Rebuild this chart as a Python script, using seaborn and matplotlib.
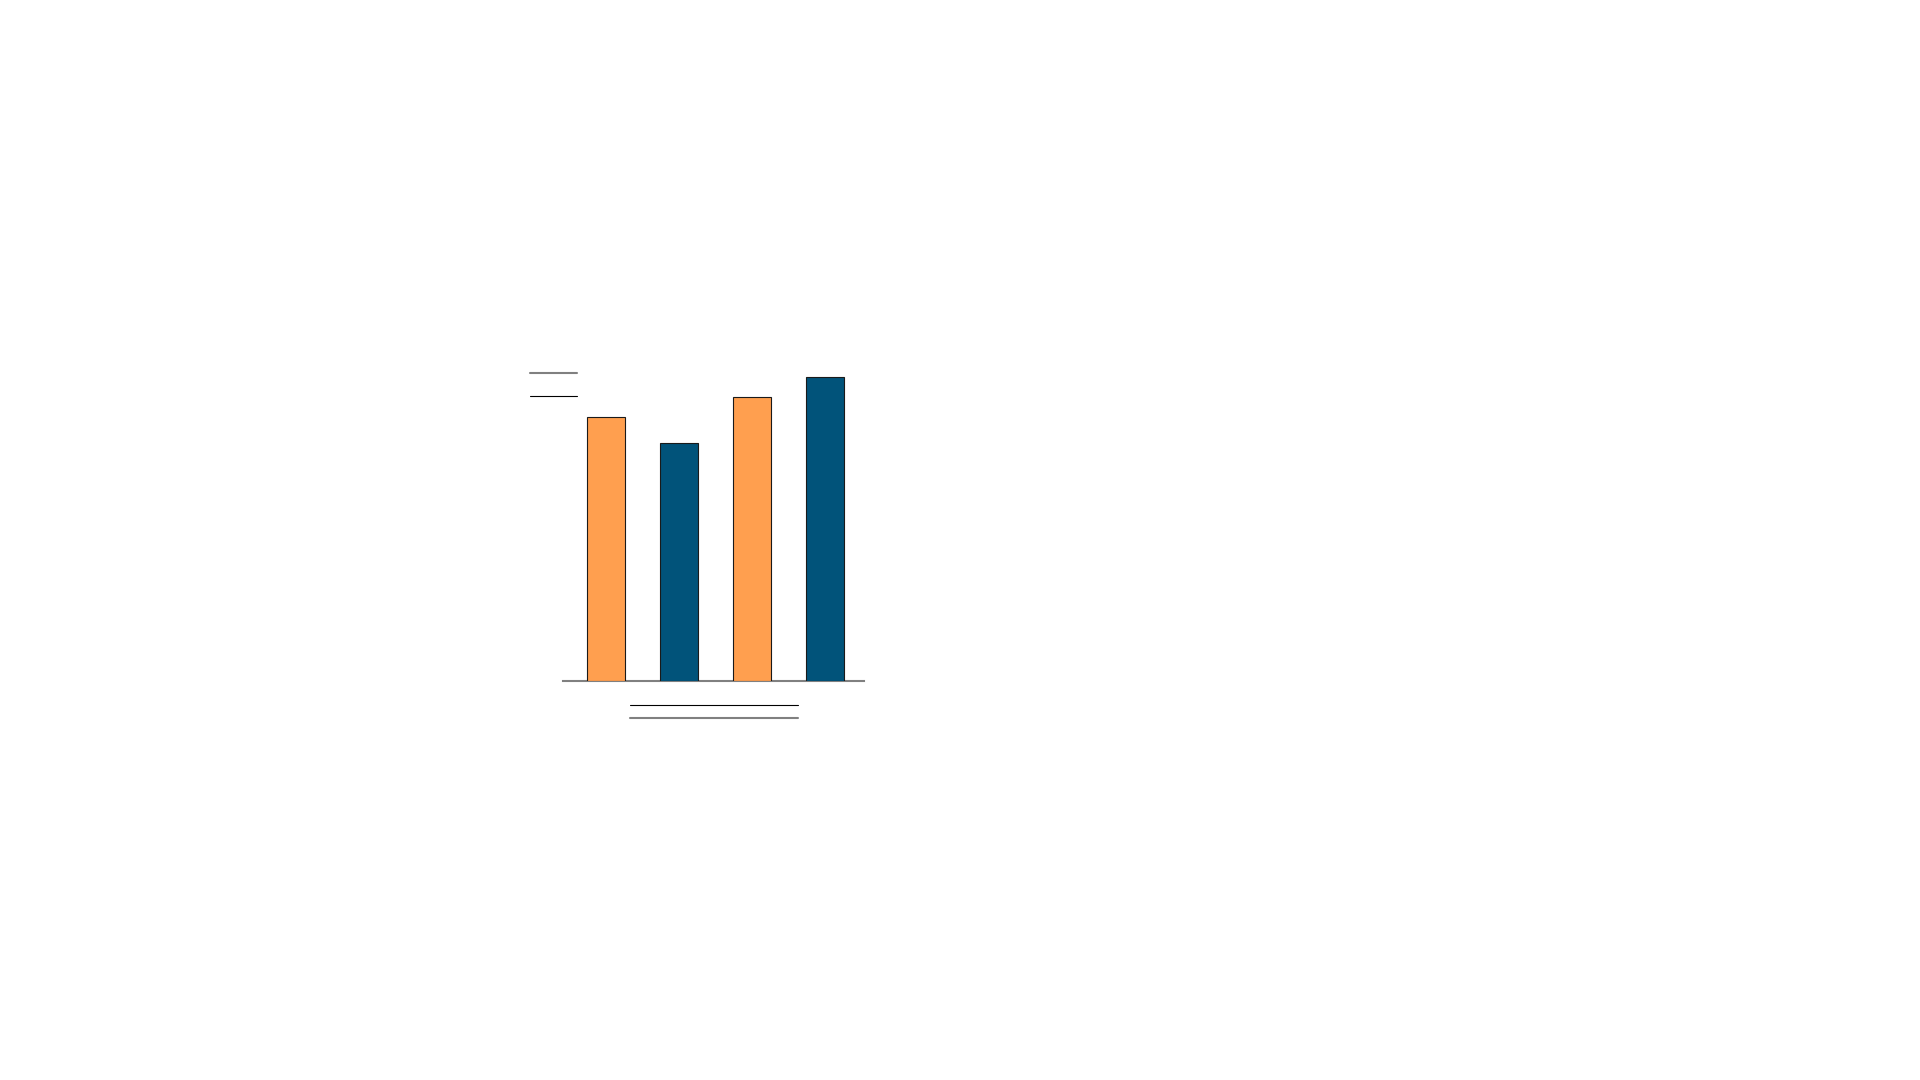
import seaborn as sns
import pandas as pd
import matplotlib.pyplot as plt
from matplotlib.lines import Line2D

# chart values (no text on the reference, so categories are placeholders)
categories = ["A", "B", "C", "D"]
values = [66, 59.5, 71, 76]
bar_colors = ["#ff9f4f", "#01537a", "#ff9f4f", "#01537a"]

df = pd.DataFrame({"cat": categories, "val": values})

sns.set_style("white")
fig = plt.figure(figsize=(19.2, 10.8), dpi=100)
W, H = 1920, 1080

# axes placed to match the reference (pixel box -> figure fraction)
ax = fig.add_axes([563 / W, 1 - 680.7 / H, 301 / W, 320.7 / H])

sns.barplot(data=df, x="cat", y="val", hue="cat", palette=bar_colors,
            saturation=1, width=0.52, edgecolor="#1a1a1a", linewidth=0.8,
            legend=False, ax=ax)

ax.set_ylim(0, 80.2)
ax.set_xlim(-0.59, 3.53)
ax.set_xlabel("")
ax.set_ylabel("")
ax.set_xticks([])
ax.set_yticks([])
for side in ["top", "left", "right"]:
    ax.spines[side].set_visible(False)
ax.spines["bottom"].set_color("#808080")
ax.spines["bottom"].set_linewidth(1.5)
ax.spines["bottom"].set_zorder(0)


def fig_line(x0, x1, y, color, lw):
    # short decoration line, pixel coords from top-left
    fig.add_artist(Line2D([x0 / W, x1 / W], [1 - y / H, 1 - y / H],
                          transform=fig.transFigure, color=color, lw=lw))


# legend-like strokes at top left
fig_line(530, 577, 372.7, "#808080", 1.5)
fig_line(530, 577, 396.3, "#000000", 0.8)
# strokes under the axis
fig_line(630, 798, 705, "#000000", 0.8)
fig_line(630, 798, 717.7, "#808080", 1.5)

fig.savefig("out.png", dpi=100, facecolor="white")
